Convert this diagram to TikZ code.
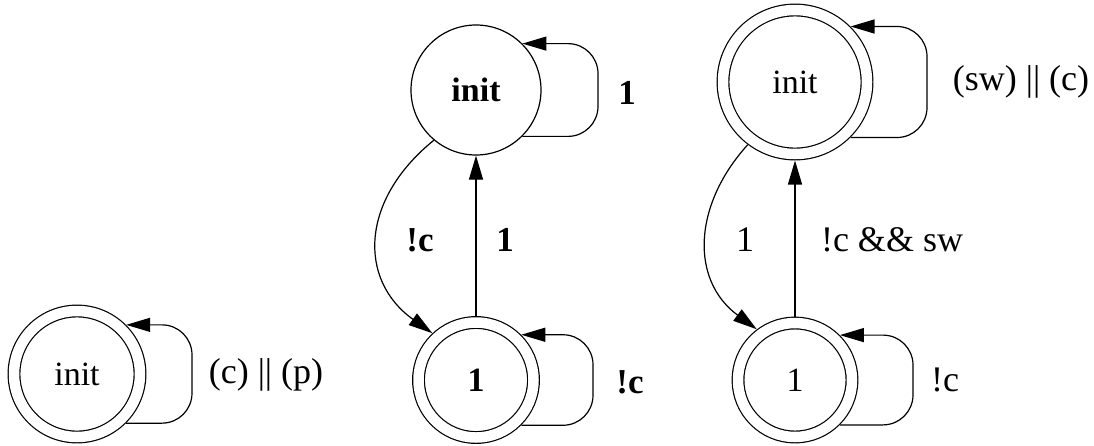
\documentclass[tikz,border=0pt]{standalone}
\usepackage{fontspec}
\setmainfont{Liberation Serif}
\usetikzlibrary{arrows.meta}
\begin{document}
\begin{tikzpicture}[x=1pt,y=-1pt,
  every node/.style={font=\fontsize{34}{40}\selectfont, inner sep=0pt},
  state/.style={circle, draw, line width=1.2pt, inner sep=0pt},
  accept/.style={state, double, double distance=10.5pt, outer sep=6.5pt},
  arr/.style={line width=1.2pt, -{Triangle[length=24pt,width=14pt]}},
  lab/.style={font=\fontsize{36}{42}\selectfont},
  blab/.style={font=\fontsize{35}{42}\selectfont\bfseries},
  loop/.style={arr, rounded corners=30pt},
]
\useasboundingbox[fill=white] (0,0) rectangle (1094,445);

% states
\node[accept, minimum size=126pt] (L) at (77,374) {init};
\node[state, minimum size=130pt] (Mt) at (476,90) {\bfseries init};
\node[accept, minimum size=115pt] (Mb) at (476,380) {\bfseries 1};
\node[accept, minimum size=144pt] (Rt) at (795,82) {init};
\node[accept, minimum size=114pt] (Rb) at (795,380) {1};

% loop turning points
\coordinate (Lr) at (192,374);
\coordinate (Mtr) at (598,90);
\coordinate (Mbr) at (593,380);
\coordinate (Rtr) at (927,82);
\coordinate (Rbr) at (913,380);

% self loops
\draw[loop] (L.-45) -- (L.-45 -| Lr) -- (L.45 -| Lr) -- (L.45);
\draw[loop] (Mt.-45) -- (Mt.-45 -| Mtr) -- (Mt.45 -| Mtr) -- (Mt.45);
\draw[loop] (Mb.-45) -- (Mb.-45 -| Mbr) -- (Mb.45 -| Mbr) -- (Mb.45);
\draw[loop] (Rt.-45) -- (Rt.-45 -| Rtr) -- (Rt.45 -| Rtr) -- (Rt.45);
\draw[loop] (Rb.-45) -- (Rb.-45 -| Rbr) -- (Rb.45 -| Rbr) -- (Rb.45);

% transitions
\draw[arr] (Mb) -- (Mt);
\draw[arr] (Mt.230) .. controls (360,200) and (358,280) .. (Mb.133);
\draw[arr] (Rb) -- (Rt);
\draw[arr] (Rt.233) .. controls (693,205) and (690,280) .. (Rb.127);

% labels
\node[lab] (l1) at (266,375) {(c) || (p)};
\node[blab] (l2) at (627,93) {1};
\node[blab] (l3) at (505,240) {1};
\node[blab] (l4) at (420,240) {!c};
\node[blab] (l5) at (630,382) {!c};
\node[lab] (l6) at (1021,82) {(sw) || (c)};
\node[lab] (l7) at (892,240) {!c \&\& sw};
\node[lab] (l8) at (745,240) {1};
\node[lab] (l9) at (945,380) {!c};
\end{tikzpicture}
\end{document}
